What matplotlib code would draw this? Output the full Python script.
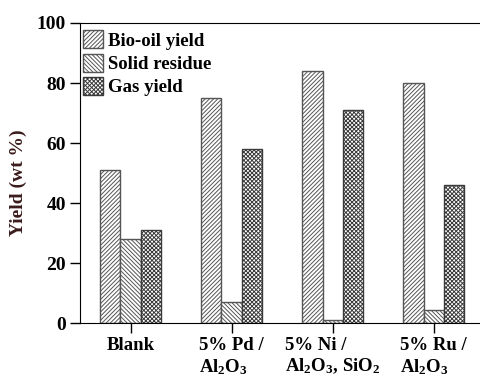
import numpy as np
import matplotlib
matplotlib.use('Agg')
import matplotlib.pyplot as plt

plt.rcParams['font.family'] = ['Liberation Serif', 'DejaVu Serif']
plt.rcParams['font.weight'] = 'bold'
plt.rcParams['mathtext.fontset'] = 'custom'
plt.rcParams['mathtext.rm'] = 'Liberation Serif:bold'
plt.rcParams['mathtext.it'] = 'Liberation Serif:bold'
plt.rcParams['mathtext.bf'] = 'Liberation Serif:bold'
plt.rcParams['hatch.linewidth'] = 0.7

categories = ['Blank', '5% Pd /\nAl$_2$O$_3$', '5% Ni /\nAl$_2$O$_3$, SiO$_2$', '5% Ru /\nAl$_2$O$_3$']
series = ['Bio-oil yield', 'Solid residue', 'Gas yield']
bio_oil = [51, 75, 84, 80]
solid = [28, 7, 1, 4.5]
gas = [31, 58, 71, 46]

hatches = ['////////', '\\\\\\\\\\\\\\\\', 'xxxxxxxx']
hatch_colors = ['#555555', '#555555', '#3a3a3a']

fig = plt.figure(figsize=(4.8, 3.77), dpi=100)
ax = fig.add_axes([0.1667, 0.1432, 0.842, 0.7958])

x = np.arange(len(categories))
w = 0.2
for i, (vals, name) in enumerate(zip([bio_oil, solid, gas], series)):
    ax.bar(x + (i - 1) * w, vals, w, label=name, facecolor='white',
           edgecolor=hatch_colors[i], hatch=hatches[i], linewidth=1.0)

ax.set_xlim(-0.5, 3.5)
ax.set_ylim(0, 100)
ax.set_yticks([0, 20, 40, 60, 80, 100])
ax.set_xticks(x)
ax.set_xticklabels(categories, fontsize=13.5, fontweight='bold', multialignment='left')
ax.tick_params(axis='both', direction='out', length=7, width=1)
ax.tick_params(axis='x', pad=3)
ax.tick_params(axis='y', pad=3)
for lab in ax.get_yticklabels():
    lab.set_fontweight('bold')
    lab.set_fontsize(14)
ax.set_ylabel('Yield (wt %)', fontsize=14, fontweight='bold', color='#3b1c1c')
ax.yaxis.set_label_coords(-0.131, 0.467)

leg = ax.legend(loc='upper left', bbox_to_anchor=(-0.012, 1.0), frameon=False,
                fontsize=13.5, handlelength=1.1, handleheight=1.1, handletextpad=0.25,
                labelspacing=0.2, borderaxespad=0.3, borderpad=0.1)
for t in leg.get_texts():
    t.set_fontweight('bold')

fig.savefig('out.png', dpi=100)
